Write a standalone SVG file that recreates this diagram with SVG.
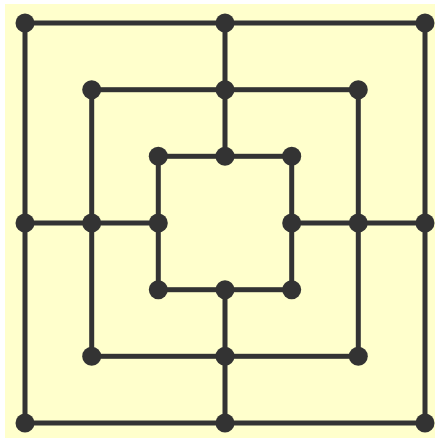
<svg xmlns="http://www.w3.org/2000/svg" width="435" height="438" viewBox="0 0 435 438">
<style>
.ln{stroke:#333333;stroke-width:5;fill:none;stroke-linecap:butt}
.pt{fill:#333333}
</style>
<rect x="5" y="4" width="430" height="434" fill="#ffffcc"/>
<g id="connectors">
<rect class="ln" x="25" y="23" width="400" height="400"/>
<rect class="ln" x="91.7" y="89.7" width="266.6" height="266.6"/>
<rect class="ln" x="158.3" y="156.3" width="133.4" height="133.4"/>
<line class="ln" x1="225" y1="23" x2="225" y2="156.3"/>
<line class="ln" x1="225" y1="289.7" x2="225" y2="423"/>
<line class="ln" x1="25" y1="223" x2="158.3" y2="223"/>
<line class="ln" x1="291.7" y1="223" x2="425" y2="223"/>
</g>
<g id="n1"><circle class="pt" cx="25" cy="23" r="9.5"/></g>
<g id="n2"><circle class="pt" cx="225" cy="23" r="9.5"/></g>
<g id="n3"><circle class="pt" cx="425" cy="23" r="9.5"/></g>
<g id="n4"><circle class="pt" cx="91.7" cy="89.7" r="9.5"/></g>
<g id="n5"><circle class="pt" cx="225" cy="89.7" r="9.5"/></g>
<g id="n6"><circle class="pt" cx="358.3" cy="89.7" r="9.5"/></g>
<g id="n7"><circle class="pt" cx="158.3" cy="156.3" r="9.5"/></g>
<g id="n8"><circle class="pt" cx="225" cy="156.3" r="9.5"/></g>
<g id="n9"><circle class="pt" cx="291.7" cy="156.3" r="9.5"/></g>
<g id="n10"><circle class="pt" cx="25" cy="223" r="9.5"/></g>
<g id="n11"><circle class="pt" cx="91.7" cy="223" r="9.5"/></g>
<g id="n12"><circle class="pt" cx="158.3" cy="223" r="9.5"/></g>
<g id="n13"><circle class="pt" cx="291.7" cy="223" r="9.5"/></g>
<g id="n14"><circle class="pt" cx="358.3" cy="223" r="9.5"/></g>
<g id="n15"><circle class="pt" cx="425" cy="223" r="9.5"/></g>
<g id="n16"><circle class="pt" cx="158.3" cy="289.7" r="9.5"/></g>
<g id="n17"><circle class="pt" cx="225" cy="289.7" r="9.5"/></g>
<g id="n18"><circle class="pt" cx="291.7" cy="289.7" r="9.5"/></g>
<g id="n19"><circle class="pt" cx="91.7" cy="356.3" r="9.5"/></g>
<g id="n20"><circle class="pt" cx="225" cy="356.3" r="9.5"/></g>
<g id="n21"><circle class="pt" cx="358.3" cy="356.3" r="9.5"/></g>
<g id="n22"><circle class="pt" cx="25" cy="423" r="9.5"/></g>
<g id="n23"><circle class="pt" cx="225" cy="423" r="9.5"/></g>
<g id="n24"><circle class="pt" cx="425" cy="423" r="9.5"/></g>
</svg>
